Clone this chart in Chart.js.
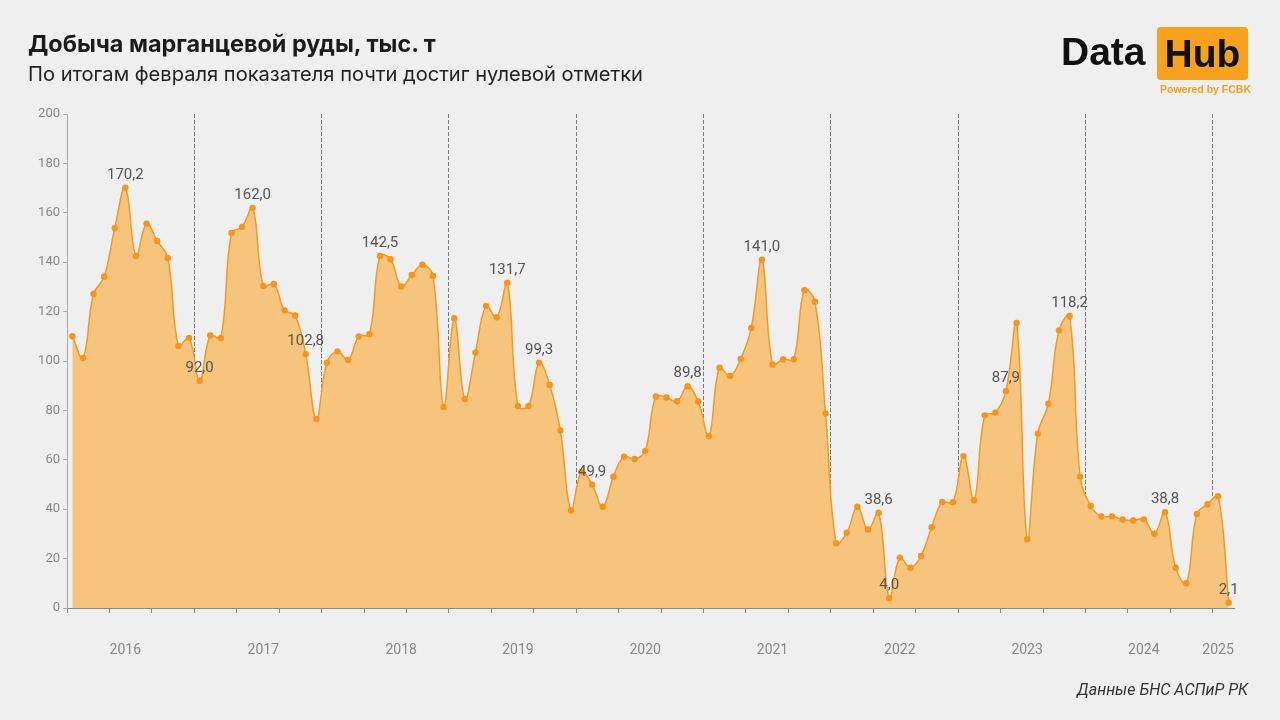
<!DOCTYPE html>
<html>
<head>
<meta charset="utf-8">
<script src="https://cdn.jsdelivr.net/npm/chart.js@4"></script>
<style>
  body { margin: 0; background: #efefef; font-family: Roboto, sans-serif; }
  #wrap { position: relative; width: 1280px; height: 720px; overflow: hidden; }
  #chart { position: absolute; left: 0; top: 0; }
  .title { position: absolute; left: 28px; top: 29px; font: 700 23.4px Inter, sans-serif; color: #1b1b1b; }
  .subtitle { position: absolute; left: 28px; top: 62px; font: 400 20.1px Inter, sans-serif; color: #222; }
  .logo-data { position: absolute; left: 1061px; top: 30px; font: 700 39px "Liberation Sans", Arial, sans-serif; color: #111; }
  .logo-hub { position: absolute; left: 1157px; top: 27px; width: 91px; height: 53px; background: #f7a11c; border-radius: 4px;
    font: 700 39px "Liberation Sans", Arial, sans-serif; color: #111; text-align: center; line-height: 53px; }
  .logo-sub { position: absolute; left: 1160px; top: 83px; font: 700 10.5px "Liberation Sans", Arial, sans-serif; color: #f7a11c; }
  .source { position: absolute; right: 32px; top: 680px; font-size: 16px; font-style: italic; color: #333; }
</style>
</head>
<body>
<div id="wrap">
  <canvas id="chart" width="1280" height="720"></canvas>
  <div class="title">Добыча марганцевой руды, тыс. т</div>
  <div class="subtitle">По итогам февраля показателя почти достиг нулевой отметки</div>
  <div class="logo-data">Data</div>
  <div class="logo-hub">Hub</div>
  <div class="logo-sub">Powered by FCBK</div>
  <div class="source">Данные БНС АСПиР РК</div>
</div>
<script>
// Monthly production, thousand tonnes
const years = ['2016', '2017', '2018', '2019', '2020', '2021', '2022', '2023', '2024', '2025'];
const monthNames = ['01', '02', '03', '04', '05', '06', '07', '08', '09', '10', '11', '12'];

const ore2016 = [110.0, 101.2, 127.1, 134.1, 153.8, 170.2, 142.5, 155.6, 148.6, 141.7, 106.1, 109.3];
const ore2017 = [92.0, 110.3, 109.3, 151.8, 154.3, 162.0, 130.4, 131.2, 120.5, 118.4, 102.8, 76.5];
const ore2018 = [99.3, 103.9, 100.4, 109.9, 110.8, 142.5, 141.2, 130.2, 134.8, 139.0, 134.4, 81.4];
const ore2019 = [117.3, 84.6, 103.4, 122.3, 117.7, 131.7, 81.8, 81.8, 99.3, 90.3, 71.9, 39.5];
const ore2020 = [55.2, 49.9, 41.0, 53.2, 61.3, 60.3, 63.6, 85.6, 85.2, 83.7, 89.8, 83.6];
const ore2021 = [69.6, 97.3, 93.9, 100.8, 113.4, 141.0, 98.6, 100.7, 100.7, 128.7, 124.0, 78.7];
const ore2022 = [26.2, 30.5, 41.0, 31.8, 38.6, 4.0, 20.4, 16.3, 21.1, 32.7, 42.9, 42.8];
const ore2023 = [61.5, 43.6, 78.0, 79.1, 87.9, 115.4, 27.8, 70.6, 82.7, 112.4, 118.2, 53.2];
const ore2024 = [41.3, 37.1, 37.1, 35.8, 35.4, 35.9, 30.1, 38.8, 16.3, 10.0, 38.1, 42.0];
const ore2025 = [45.3, 2.1];

// points that carry a value label (month index from Jan 2016)
const labeledMonths = [5, 12, 17, 22, 29, 41, 44, 49, 58, 65, 76, 77, 88, 94, 103, 109];
// where each year caption sits on the axis (month index)
const yearLabelMonths = [5, 18, 31, 42, 54, 66, 78, 90, 101, 108];

const yTicks = [0, 20, 40, 60, 80, 100, 120, 140, 160, 180, 200];

const values = [].concat(ore2016, ore2017, ore2018, ore2019, ore2020, ore2021, ore2022, ore2023, ore2024, ore2025);
const categories = [];
years.forEach(y => monthNames.forEach(m => categories.push(y + '-' + m)));
categories.length = values.length;

const valueLabels = {
  id: 'valueLabels',
  afterDatasetsDraw(chart) {
    const ctx = chart.ctx;
    const pts = chart.getDatasetMeta(0).data;
    ctx.save();
    ctx.font = '15px Roboto, sans-serif';
    ctx.fillStyle = '#555';
    ctx.textAlign = 'center';
    ctx.textBaseline = 'bottom';
    labeledMonths.forEach(i => {
      const p = pts[i];
      ctx.fillText(values[i].toFixed(1).replace('.', ','), p.x, p.y - 5);
    });
    ctx.restore();
  }
};

new Chart(document.getElementById('chart'), {
  type: 'line',
  data: {
    labels: categories,
    datasets: [{
      data: values,
      borderColor: '#f39a22',
      borderWidth: 1.5,
      backgroundColor: '#f6c47d',
      fill: 'origin',
      tension: 0.4,
      pointRadius: 3.2,
      pointBackgroundColor: '#f7941d',
      pointBorderWidth: 0,
    }],
  },
  options: {
    responsive: false,
    animation: false,
    layout: { padding: { left: 10, right: 46, top: 114, bottom: 52 } },
    plugins: { legend: { display: false }, tooltip: { enabled: false } },
    scales: {
      x: {
        offset: true,
        afterFit: s => { s.height = 60; },
        grid: {
          offset: true,
          color: c => (c.index > 0 && c.index < values.length && c.index % 12 === 0) ? '#7a7a7a' : 'transparent',
          tickColor: c => c.index % 4 === 0 ? '#8a8a8a' : 'transparent',
          tickLength: 5,
          lineWidth: 1,
        },
        border: { color: '#8a8a8a', dash: [4, 2] },
        ticks: {
          autoSkip: false,
          maxRotation: 0,
          padding: 29,
          color: '#888',
          font: { size: 14, family: 'Roboto' },
          callback: (v, i) => {
            const k = yearLabelMonths.indexOf(i);
            return k >= 0 ? years[k] : '';
          },
        },
      },
      y: {
        min: 0,
        max: 200,
        afterFit: s => { s.width = 57; },
        afterBuildTicks: s => { s.ticks = yTicks.map(v => ({ value: v })); },
        grid: { drawOnChartArea: false, tickLength: 4, tickColor: '#aaa' },
        border: { color: '#aaa' },
        ticks: { padding: 3, color: '#888', font: { size: 13, family: 'Roboto' } },
      },
    },
  },
  plugins: [valueLabels],
});
</script>
</body>
</html>
